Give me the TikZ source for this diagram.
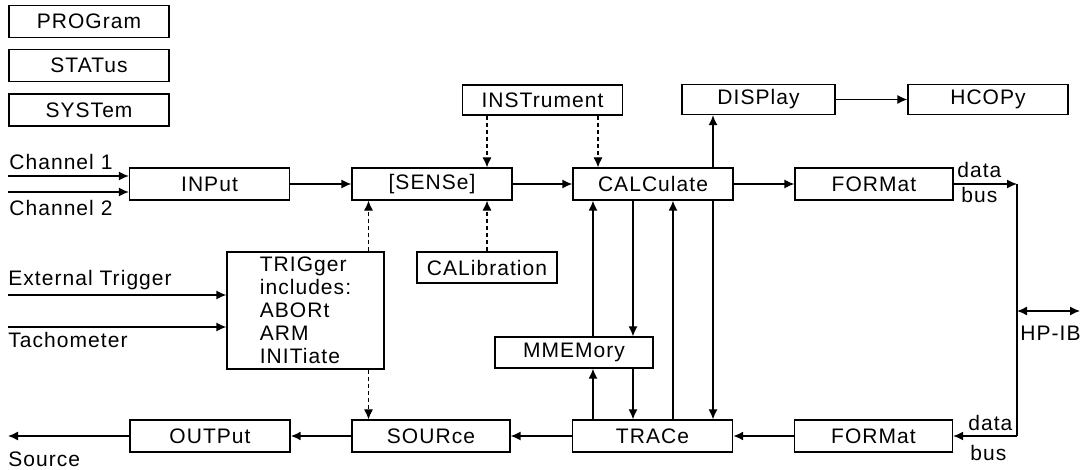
\documentclass[tikz,border=0pt]{standalone}
\usepackage{fontspec}
\setmainfont{Liberation Sans}[LetterSpace=5]
\usetikzlibrary{arrows.meta}

\tikzset{
  blk/.style={draw, line width=0.6pt, minimum width=80pt, minimum height=16pt,
    inner sep=0pt, font=\fontsize{10.5}{11.5}\selectfont},
  lbl/.style={inner sep=0pt, font=\fontsize{10.5}{11.5}\selectfont},
  link/.style={line width=0.7pt, -{Latex[length=5pt,width=4.5pt]}},
  ctl/.style={link, line width=0.55pt, dash pattern=on 2pt off 1.5pt},
  heavy/.style={link, line width=1.2pt},
}

\begin{document}
\begin{tikzpicture}[x=0.5pt,y=-0.5pt]
  \useasboundingbox (0,0) rectangle (1080,470);
  % common command subsystems, stand-alone
  \foreach \nm/\txt/\y in {prog/PROGram/21.5, stat/STATus/65.5, syst/SYSTem/110}
    \node[blk] (\nm) at (89,\y) {\txt};

  % upper row
  \node[blk, minimum height=15pt] (instr) at (542.5,100) {INSTrument};
  \node[blk, minimum width=76.5pt, minimum height=15pt] (disp) at (758.5,99.5) {DISPlay};
  \node[blk, minimum height=15pt] (hcopy) at (988,99.5) {HCOPy};
  \node[blk] (inp)   at (209.5,184) {INPut};
  \node[blk] (sens)  at (432,184)   {[SENSe]};
  \node[blk] (calc)  at (653,184)   {CALCulate};
  \node[blk, minimum width=79pt] (fmtup) at (874,184) {FORMat};

  % middle
  \node[blk, minimum width=78.5pt, minimum height=58.5pt, align=left] (trig)
    at (305.5,310.5) {TRIGger\\includes:\\ABORt\\ARM\\INITiate};
  \node[blk, minimum width=70pt, minimum height=15.5pt] (calib) at (487,267.5) {CALibration};
  \node[blk, minimum width=79pt, minimum height=15.5pt] (mmem) at (574,352.5) {MMEMory};

  % lower row
  \node[blk] (outp) at (210,436) {OUTPut};
  \node[blk, minimum width=79pt] (sour) at (431,436) {SOURce};
  \node[blk] (trac) at (652.5,436) {TRACe};
  \node[blk, minimum width=79pt] (fmtdn) at (873.5,436) {FORMat};

  % free ends
  \coordinate (ch1) at (8,176);
  \coordinate (ch2) at (8,192);
  \coordinate (ext) at (8,295);
  \coordinate (tach) at (8,327);
  \coordinate (srcout) at (8,436);
  \coordinate (bustop) at (1017,184);
  \coordinate (busbot) at (1017,436);
  \coordinate (hpl) at (1017,311);
  \coordinate (hpr) at (1080,311);

  % outside labels
  \node[lbl, anchor=base west] (ch1txt)  at (9,170)   {Channel 1};
  \node[lbl, anchor=base west] (ch2txt)  at (9,215)   {Channel 2};
  \node[lbl, anchor=base west] (exttxt)  at (8,285)   {External Trigger};
  \node[lbl, anchor=base west] (tachtxt) at (8,347)   {Tachometer};
  \node[lbl, anchor=base west] (srctxt)  at (8,466)   {Source};
  \node[lbl, anchor=base west] (dataup)  at (957,178) {data};
  \node[lbl, anchor=base west] (busup)   at (961,203) {bus};
  \node[lbl, anchor=base west] (datadn)  at (968,430) {data};
  \node[lbl, anchor=base west] (busdn)   at (970,460) {bus};
  \node[lbl, anchor=base west] (hpib)    at (1020,340) {HP-IB};

  % inputs
  \draw[link] (ch1) -- (ch1 -| inp.west);
  \draw[link] (ch2) -- (ch2 -| inp.west);
  \draw[link] (ext) -- (ext -| trig.west);
  \draw[link] (tach) -- (tach -| trig.west);

  % measurement path
  \draw[link] (inp) -- (sens);
  \draw[link] (sens) -- (calc);
  \draw[link] (calc) -- (fmtup);
  \draw[link] (fmtup.east) -- (bustop);
  \draw[line width=0.7pt] (bustop) -- (busbot);
  \draw[link] (busbot) -- (fmtdn.east);
  \draw[link, {Latex[length=5pt,width=4.5pt]}-{Latex[length=5pt,width=4.5pt]}] (hpl) -- (hpr);
  \draw[link] ([xshift=30pt]calc.north) -- ([xshift=30pt]calc.north |- disp.south);
  \draw[link] (disp) -- (hcopy);

  % control (dotted)
  \draw[ctl] ([xshift=27.5pt]sens.north |- instr.south) -- ([xshift=27.5pt]sens.north);
  \draw[ctl] ([xshift=-27.5pt]calc.north |- instr.south) -- ([xshift=-27.5pt]calc.north);
  \draw[ctl] (calib.north) -- (calib.north |- sens.south);
  \draw[ctl] ([xshift=31.5pt]trig.north) -- ([xshift=31.5pt]trig.north |- sens.south);
  \draw[ctl] ([xshift=31.5pt]trig.south) -- ([xshift=31.5pt]trig.south |- sour.north);

  % CALCulate / MMEMory / TRACe
  \draw[link] ([xshift=-30pt]calc.south |- mmem.north) -- ([xshift=-30pt]calc.south);
  \draw[link] ([xshift=-30pt]calc.south |- trac.north) -- ([xshift=-30pt]calc.south |- mmem.south);
  \draw[link] ([xshift=-10pt]calc.south) -- ([xshift=-10pt]calc.south |- mmem.north);
  \draw[link] ([xshift=-10pt]calc.south |- mmem.south) -- ([xshift=-10pt]calc.south |- trac.north);
  \draw[link] ([xshift=10pt]calc.south |- trac.north) -- ([xshift=10pt]calc.south);
  \draw[link] ([xshift=30pt]calc.south) -- ([xshift=30pt]calc.south |- trac.north);

  % output path
  \draw[heavy] (fmtdn) -- (trac);
  \draw[link] (trac) -- (sour);
  \draw[heavy] (sour) -- (outp);
  \draw[link] (outp) -- (srcout);
\end{tikzpicture}
\end{document}
